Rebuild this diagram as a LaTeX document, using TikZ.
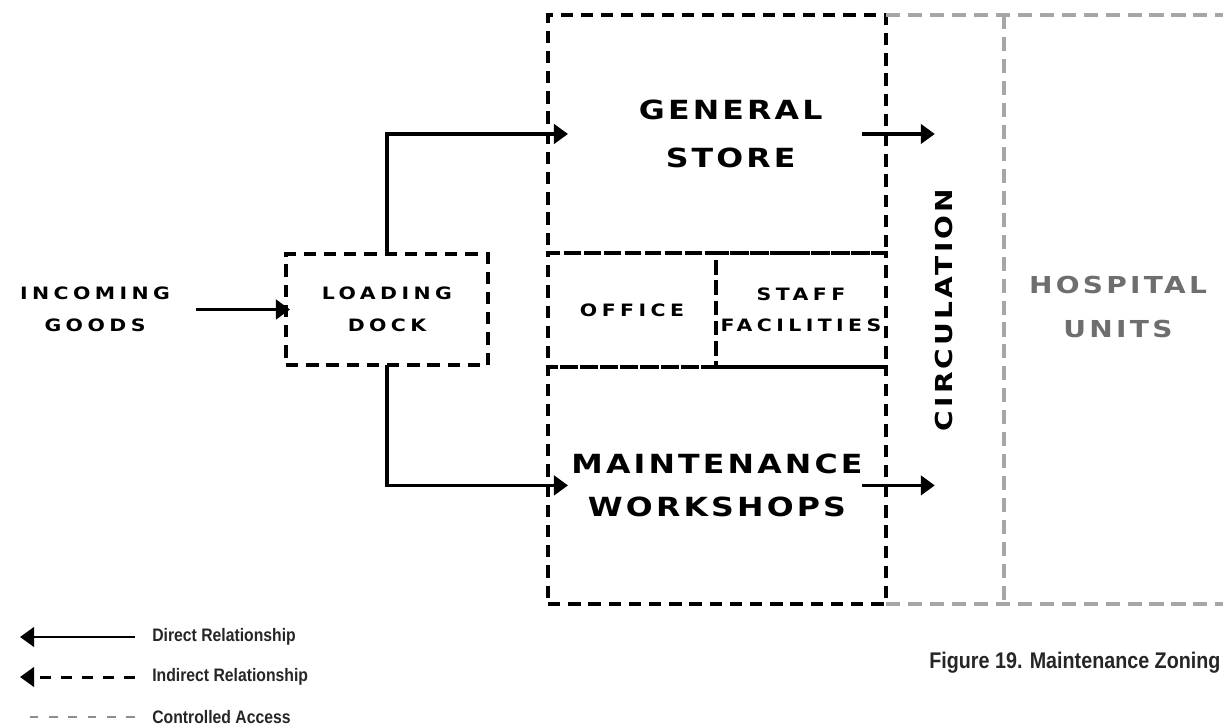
\documentclass[tikz,border=0pt]{standalone}
\usepackage{fontspec}
\usetikzlibrary{arrows.meta, positioning}
\newfontfamily\zonefont[FakeStretch=1.2, LetterSpace=12]{DejaVu Sans Bold}
\newfontfamily\tagfont[FakeStretch=1.2, LetterSpace=26]{DejaVu Sans Bold}
\newfontfamily\sidefont[FakeStretch=1.2, LetterSpace=14]{DejaVu Sans Bold}
\newfontfamily\notefont[FakeStretch=0.87]{Liberation Sans}
\definecolor{ZoneGray}{HTML}{A6A6A6}
\definecolor{TextGray}{HTML}{6E6E6E}
\definecolor{NoteBlack}{HTML}{262626}

\begin{document}
\begin{tikzpicture}[x=0.02cm, y=-0.02cm,
    zone/.style={draw, line width=2.2pt, dash pattern=on 7pt off 4.5pt, inner sep=0pt, outer sep=0pt, align=center},
    bigtext/.style={font=\zonefont\fontsize{15}{24}\selectfont},
    tagtext/.style={font=\tagfont\fontsize{9.7}{18}\selectfont, align=center, inner sep=0pt},
    sidetext/.style={font=\sidefont\fontsize{13.3}{24.5}\selectfont, align=center, inner sep=0pt},
    arrow/.style={-{Triangle[length=8pt, width=11pt]}, line width=2pt},
    access/.style={draw=ZoneGray, line width=2.2pt, dash pattern=on 8pt off 4.5pt},
    note/.style={font=\notefont\bfseries\fontsize{10.3}{12}\selectfont, text=NoteBlack, anchor=west, inner sep=0pt}
  ]
  \useasboundingbox (0,0) rectangle (1223,726);
  \coordinate (rim) at (1223,0);

  % zones
  \node[zone, bigtext, minimum width=6.76cm, minimum height=4.76cm, anchor=north west] (store) at (548,15)
    {\hspace*{0.55cm}GENERAL\\[3pt]\hspace*{0.55cm}STORE};
  \node[zone, tagtext, dash phase=1.5pt, minimum width=3.36cm, minimum height=2.28cm, below=0pt of store.south west, anchor=north west] (office) {OFFICE};
  \node[zone, tagtext, dash phase=2pt, minimum width=3.4cm, minimum height=2.28cm, right=0pt of office] (staff) {STAFF\\FACILITIES};
  \node[zone, bigtext, minimum width=6.76cm, minimum height=4.74cm, below=0pt of office.south west, anchor=north west] (workshop) {MAINTENANCE\\WORKSHOPS};

  \draw[access] (store.north east) -- (store.north east -| rim);
  \draw[access] (workshop.south east) -- (workshop.south east -| rim);
  \draw[access] (1004,15) -- (1004,604);

  \node[sidetext, rotate=90] (circ) at (944,310) {CIRCULATION};
  \node[sidetext, text=TextGray] (hospital) at (1118,307) {HOSPITAL\\UNITS};

  \node[zone, tagtext, minimum width=4.04cm, minimum height=2.22cm] (dock) at (387,309.5) {LOADING\\DOCK};
  \node[tagtext] (goods) at (95,309.5) {INCOMING\\GOODS};

  % flows
  \draw[arrow, shorten <=0.52cm, shorten >=-0.08cm] (goods) -- (dock);
  \draw[arrow, shorten >=-0.4cm] (dock.north) |- (store.west);
  \draw[arrow, shorten >=-0.4cm] (dock.south) |- (workshop.west);
  \draw[arrow, shorten <=-0.48cm] (store.east) -- (store.east -| circ.north);
  \draw[arrow, shorten <=-0.48cm] (workshop.east) -- (workshop.east -| circ.north);

  % legend
  \node[note] (direct) at (152,637) {Direct Relationship};
  \node[note] (indirect) at (152,677) {Indirect Relationship};
  \node[note] (controlled) at (152,717) {Controlled Access};
  \coordinate (directtip) at (20,637);
  \coordinate (indirecttip) at (20,677);
  \coordinate (controlledend) at (20,717);
  \draw[arrow, line width=1.7pt, shorten <=0.34cm] (direct.west) -- (directtip);
  \draw[arrow, line width=1.7pt, dash pattern=on 6pt off 6pt, shorten <=0.34cm] (indirect.west) -- (indirecttip);
  \draw[draw=ZoneGray!85!black, line width=1.6pt, dash pattern=on 5pt off 6pt, shorten <=0.34cm] (controlled.west) -- (controlledend);

  \node[note, font=\notefont\bfseries\fontsize{12.9}{15}\selectfont] (caption) at (929,663) {Figure 19. Maintenance Zoning};
\end{tikzpicture}
\end{document}
